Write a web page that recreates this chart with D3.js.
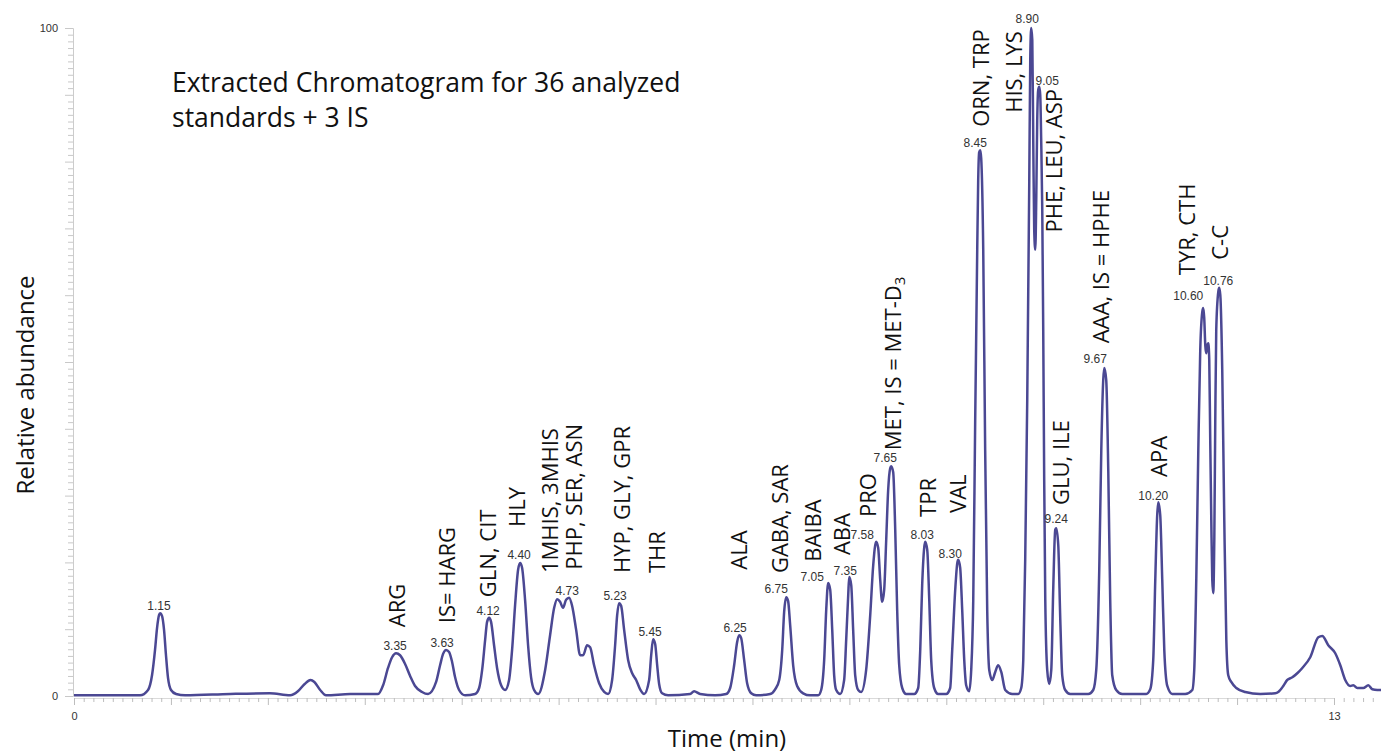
<!DOCTYPE html>
<html>
<head>
<meta charset="utf-8">
<script src="https://cdn.jsdelivr.net/npm/d3@7"></script>
<style>
  body { margin: 0; background: #fff; }
  svg { display: block; }
</style>
</head>
<body>
<div id="chart"></div>
<script>
// chromatogram trace: [time (min), relative abundance]
const trace = [
  [0, 0.1], [0.27, 0.1], [0.681, 0.1], [0.764, 0.9], [0.805, 3.1], [0.836, 6.9], [0.857, 10.2], [0.877, 12.1],
  [0.888, 12.4], [0.908, 12.0], [0.929, 9.9], [0.949, 6.1], [0.970, 2.7], [1.001, 0.9], [1.053, 0.3], [1.146, 0.1],
  [1.61, 0.3], [2.02, 0.4], [2.23, 0.1], [2.31, 0.7], [2.38, 1.8], [2.44, 2.4], [2.48, 2.1], [2.54, 0.9],
  [2.60, 0.1], [2.85, 0.3], [3.05, 0.3],
  [3.137, 0.3], [3.189, 1.6], [3.240, 4.2], [3.282, 5.8], [3.323, 6.4], [3.364, 6.1], [3.416, 4.8], [3.468, 3.0],
  [3.519, 1.5], [3.591, 0.6], [3.653, 0.3],
  [3.736, 2.1], [3.777, 4.6], [3.808, 6.3], [3.839, 6.9], [3.870, 6.6], [3.901, 5.1], [3.932, 2.8], [3.973, 0.9],
  [4.035, 0.1],
  [4.138, 0.3], [4.180, 1.2], [4.211, 3.9], [4.242, 8.4], [4.262, 11.1], [4.283, 11.7], [4.303, 11.1], [4.334, 7.6],
  [4.365, 4.2], [4.407, 1.6], [4.448, 0.9],
  [4.489, 2.4], [4.520, 6.9], [4.551, 13.6], [4.582, 18.9], [4.603, 19.9], [4.623, 19.2], [4.654, 14.4], [4.685, 7.6],
  [4.716, 2.8], [4.747, 0.9], [4.789, 0.3],
  [4.861, 3.9], [4.912, 9.1], [4.954, 13.2], [4.985, 14.5], [5.015, 14.1], [5.046, 13.2], [5.077, 14.4], [5.108, 14.7],
  [5.139, 13.5], [5.181, 9.9], [5.222, 6.1], [5.253, 6.1], [5.294, 7.6], [5.325, 7.3], [5.366, 4.6], [5.418, 1.9],
  [5.470, 0.6], [5.511, 0.3],
  [5.552, 2.4], [5.583, 7.6], [5.604, 12.1], [5.624, 13.9], [5.645, 13.5], [5.676, 9.9], [5.717, 5.4], [5.759, 3.4],
  [5.800, 2.4], [5.841, 1.0], [5.882, 0.3],
  [5.934, 2.4], [5.955, 6.1], [5.975, 8.5], [5.996, 7.8], [6.017, 4.6], [6.037, 1.8], [6.068, 0.4], [6.130, 0.1],
  [6.357, 0.3], [6.398, 0.7], [6.460, 0.3], [6.615, 0.1],
  [6.729, 0.3], [6.770, 1.2], [6.811, 4.6], [6.842, 8.1], [6.863, 9.1], [6.883, 8.7], [6.914, 5.4], [6.945, 1.9],
  [6.987, 0.4], [7.038, 0.1],
  [7.183, 0.3], [7.234, 1.0], [7.276, 2.4], [7.307, 6.9], [7.327, 12.6], [7.348, 14.8], [7.368, 14.2], [7.389, 10.6],
  [7.420, 4.6], [7.461, 1.5], [7.523, 0.4], [7.595, 0.1],
  [7.678, 0.1], [7.709, 0.9], [7.740, 5.4], [7.761, 12.9], [7.781, 16.9], [7.802, 15.9], [7.823, 9.9], [7.843, 3.1],
  [7.864, 0.9], [7.905, 0.3],
  [7.946, 2.4], [7.967, 8.4], [7.988, 15.1], [7.998, 17.8], [8.019, 16.6], [8.039, 9.9], [8.060, 3.1], [8.091, 0.9],
  [8.122, 0.6],
  [8.173, 3.9], [8.215, 12.1], [8.246, 19.6], [8.276, 23.1], [8.297, 22.2], [8.318, 17.4], [8.338, 14.1], [8.359, 15.9],
  [8.380, 23.4], [8.400, 30.8], [8.421, 34.1], [8.431, 34.4], [8.452, 33.5], [8.473, 24.9], [8.493, 12.9], [8.514, 4.6],
  [8.545, 1.2], [8.586, 0.3],
  [8.669, 0.3], [8.710, 1.2], [8.731, 6.9], [8.751, 16.6], [8.772, 22.2], [8.782, 23.1], [8.803, 21.9], [8.824, 14.4],
  [8.844, 5.4], [8.875, 1.2], [8.916, 0.3],
  [8.999, 0.3], [9.040, 1.2], [9.061, 6.9], [9.092, 15.9], [9.113, 19.9], [9.123, 20.4], [9.143, 19.2], [9.164, 12.9],
  [9.185, 5.4], [9.205, 1.6], [9.236, 0.7],
  [9.257, 3.9], [9.278, 14.4], [9.298, 41.3], [9.319, 66.8], [9.329, 77.2], [9.339, 81.4], [9.350, 81.7], [9.360, 80.5],
  [9.381, 66.8], [9.401, 36.8], [9.422, 12.9], [9.443, 3.9], [9.474, 2.4], [9.505, 3.6], [9.535, 4.6], [9.567, 3.6],
  [9.608, 0.9], [9.680, 0.3], [9.742, 0.3],
  [9.773, 1.2], [9.794, 5.4], [9.814, 20.4], [9.835, 44.3], [9.856, 77.2], [9.866, 95.2], [9.876, 100], [9.887, 98.2],
  [9.897, 83.2], [9.907, 69.8], [9.918, 66.8], [9.928, 74.3], [9.938, 86.2], [9.948, 90.7], [9.959, 91.2], [9.969, 90.0],
  [9.979, 83.2], [9.990, 72.8], [10.000, 54.8], [10.010, 32.3], [10.021, 14.4], [10.041, 3.9], [10.062, 1.8],
  [10.083, 3.9], [10.103, 15.9], [10.124, 24.9], [10.134, 25.1], [10.155, 22.6], [10.176, 11.4], [10.196, 3.1],
  [10.227, 0.9], [10.279, 0.3],
  [10.465, 0.3], [10.516, 0.9], [10.547, 3.9], [10.578, 18.9], [10.599, 36.8], [10.619, 47.3], [10.630, 49.1],
  [10.650, 47.3], [10.671, 33.8], [10.691, 14.4], [10.712, 3.1], [10.753, 0.9], [10.815, 0.3],
  [11.063, 0.3], [11.104, 1.0], [11.135, 5.4], [11.156, 17.4], [11.176, 27.1], [11.187, 29.0], [11.207, 27.1],
  [11.228, 17.4], [11.249, 6.9], [11.280, 1.5], [11.331, 0.3],
  [11.465, 0.3], [11.538, 0.9], [11.558, 3.9], [11.579, 17.4], [11.600, 36.8], [11.620, 51.8], [11.641, 57.5],
  [11.651, 58.1], [11.661, 56.6], [11.672, 52.5], [11.682, 51.3], [11.692, 52.5], [11.703, 52.8], [11.713, 50.3],
  [11.723, 38.3], [11.734, 26.3], [11.744, 17.4], [11.754, 15.4], [11.765, 23.4], [11.775, 41.3], [11.785, 54.8],
  [11.806, 60.5], [11.816, 61.1], [11.827, 60.0], [11.847, 48.8], [11.868, 26.3], [11.889, 8.4], [11.909, 3.1],
  [11.940, 2.1], [11.992, 1.2], [12.085, 0.6], [12.239, 0.3], [12.394, 0.4],
  [12.425, 0.6], [12.477, 1.5], [12.518, 2.4], [12.570, 2.8], [12.621, 3.4], [12.673, 4.2], [12.755, 5.8],
  [12.838, 8.8], [12.879, 9.0], [12.941, 7.6], [13.013, 6.4], [13.065, 4.6], [13.116, 2.4], [13.168, 1.5],
  [13.199, 1.6], [13.240, 1.2], [13.302, 1.2], [13.354, 1.6], [13.395, 1.0], [13.447, 0.9], [13.488, 0.9]
];

// retention time labels and where they sit
const rtLabels = ["1.15", "3.35", "3.63", "4.12", "4.40", "4.73", "5.23", "5.45", "6.25", "6.75", "7.05", "7.35",
  "7.58", "7.65", "8.03", "8.30", "8.45", "8.90", "9.05", "9.24", "9.67", "10.20", "10.60", "10.76"];
const rtAnchors = [[0.877, 12.9], [3.313, 6.9], [3.798, 7.3], [4.272, 12.1], [4.592, 20.5], [5.088, 15.1],
  [5.583, 14.4], [5.944, 9.0], [6.821, 9.6], [7.245, 15.4], [7.616, 17.2], [7.957, 18.1], [8.132, 23.5],
  [8.369, 35.0], [8.751, 23.5], [9.040, 20.7], [9.298, 82.2], [9.835, 100.7], [10.041, 91.5], [10.134, 25.9],
  [10.537, 49.8], [11.135, 29.3], [11.496, 59.3], [11.806, 61.5]];

// compound names (vertical text), anchored at their lower end
const compounds = ["ARG", "IS= HARG", "GLN, CIT", "HLY", "1MHIS, 3MHIS", "PHP, SER, ASN", "HYP, GLY, GPR", "THR",
  "ALA", "GABA, SAR", "BAIBA", "ABA", "PRO", "MET, IS = MET-D", "TPR", "VAL", "ORN, TRP", "HIS, LYS",
  "PHE, LEU, ASP", "GLU, ILE", "AAA, IS = HPHE", "APA", "TYR, CTH", "C-C"];
const compoundAnchors = [[3.333, 10.3], [3.849, 10.9], [4.272, 14.8], [4.572, 25.3], [4.912, 18.4], [5.160, 18.9],
  [5.656, 18.4], [6.017, 18.4], [6.863, 18.9], [7.286, 18.4], [7.626, 20.1], [7.926, 21.1], [8.194, 26.8],
  [8.452, 36.8], [8.813, 26.8], [9.123, 27.4], [9.360, 85.2], [9.700, 87.3], [10.113, 69.4], [10.186, 28.6],
  [10.598, 52.8], [11.197, 32.8], [11.486, 63.0], [11.827, 65.3]];

const titleLines = ["Extracted Chromatogram for 36 analyzed", "standards + 3 IS"];

const width = 1381;
const height = 754;
const lineColor = "#4b4893";

const svg = d3.select("#chart").append("svg").attr("width", width).attr("height", height)
  .style("font-family", "'Open Sans', sans-serif");

const x = d3.scaleLinear().domain([0, 13]).range([74, 1334]);
const y = d3.scaleLinear().domain([0, 100]).range([696, 28]);

// y axis: minor tick every 1, longer every 10, labels only at the ends
const yAxis = d3.axisLeft(y)
  .tickValues(d3.range(0, 101))
  .tickSize(5)
  .tickPadding(10)
  .tickFormat((d) => (d === 0 || d === 100 ? d : ""));

const gy = svg.append("g").attr("transform", "translate(73,0)").call(yAxis);
gy.select(".domain").attr("stroke", "#ccc");
gy.selectAll(".tick line").attr("stroke", "#c8c8c8").attr("x2", (d) => (d % 10 === 0 ? -8 : -5));
gy.selectAll(".tick text").attr("font-family", "'Liberation Sans', Arial, sans-serif").attr("font-size", 11).attr("fill", "#333");

// x axis: minor tick every 0.1 min, longer each minute
const xAxis = d3.axisBottom(x)
  .tickValues(d3.range(0, 135).map((i) => i / 10))
  .tickSize(4)
  .tickPadding(10)
  .tickFormat((d) => (d === 0 || d === 13 ? d : ""));

const gx = svg.append("g").attr("transform", "translate(0,698)").call(xAxis);
gx.select(".domain").attr("stroke", "#dadada");
gx.selectAll(".tick line").attr("stroke", "#bdbdbd").attr("y2", (d) => (Math.abs(d - Math.round(d)) < 1e-6 ? 7 : 4));
gx.selectAll(".tick text").attr("font-family", "'Liberation Sans', Arial, sans-serif").attr("font-size", 11).attr("fill", "#333");

// the trace
const line = d3.line()
  .x((d) => x(d[0]))
  .y((d) => y(d[1]))
  .curve(d3.curveMonotoneX);

svg.append("path")
  .datum(trace)
  .attr("fill", "none")
  .attr("stroke", lineColor)
  .attr("stroke-width", 2.5)
  .attr("stroke-linejoin", "round")
  .attr("d", line);

// retention time numbers
svg.selectAll(".rt")
  .data(rtLabels)
  .enter()
  .append("text")
  .attr("class", "rt")
  .attr("x", (d, i) => x(rtAnchors[i][0]))
  .attr("y", (d, i) => y(rtAnchors[i][1]))
  .attr("text-anchor", "middle")
  .attr("font-family", "'Liberation Sans', Arial, sans-serif")
  .attr("font-size", 12)
  .attr("fill", "#333")
  .text((d) => d);

// compound names, rotated
const names = svg.selectAll(".cmp")
  .data(compounds)
  .enter()
  .append("text")
  .attr("class", "cmp")
  .attr("transform", (d, i) => `translate(${x(compoundAnchors[i][0])},${y(compoundAnchors[i][1])}) rotate(-90)`)
  .attr("dy", "0.35em")
  .attr("font-size", 22)
  .attr("fill", "#111")
  .text((d) => d);

names.filter((d) => d === "MET, IS = MET-D")
  .append("tspan")
  .attr("dy", "0.3em")
  .attr("font-size", 15)
  .text("3");

// title
svg.append("text")
  .attr("x", 172)
  .attr("y", 92)
  .attr("font-size", 26.5)
  .attr("fill", "#111")
  .selectAll("tspan")
  .data(titleLines)
  .enter()
  .append("tspan")
  .attr("x", 172)
  .attr("dy", (d, i) => (i === 0 ? 0 : 35))
  .text((d) => d);

// axis titles
svg.append("text")
  .attr("transform", "translate(34,385) rotate(-90)")
  .attr("text-anchor", "middle")
  .attr("font-size", 24)
  .attr("fill", "#111")
  .text("Relative abundance");

svg.append("text")
  .attr("x", 727)
  .attr("y", 747)
  .attr("text-anchor", "middle")
  .attr("font-size", 24)
  .attr("fill", "#111")
  .text("Time (min)");
</script>
</body>
</html>
